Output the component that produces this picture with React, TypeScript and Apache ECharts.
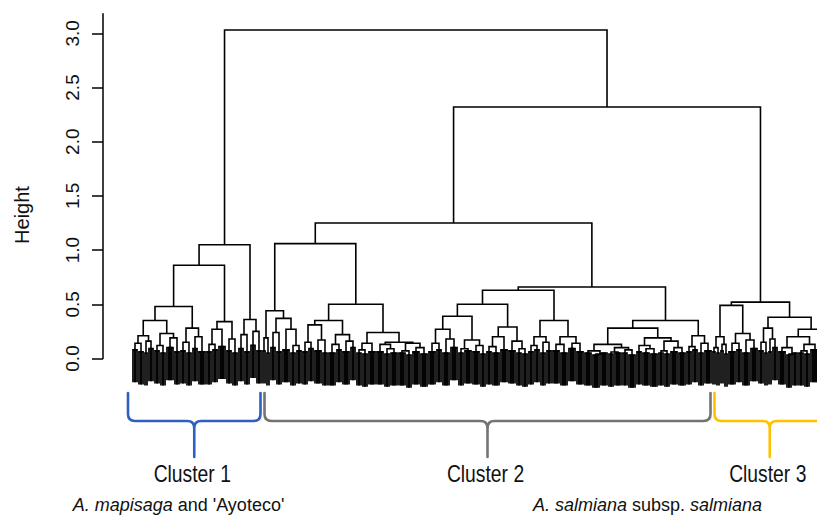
import React, { useEffect, useRef } from 'react';
import * as echarts from 'echarts';

// A tree node is [mergeHeight, left, right]; a terminal bundle is [mergeHeight, leafCount].
type Tree = [number, number] | [number, Tree, Tree];

// ---------------- data ----------------
const HANG = 0.3; // leaf hang below its parent (R's hang = 0.1 of the height range)
const yTickValues = [0, 0.5, 1, 1.5, 2, 2.5, 3];

const rootHeight = 3.03;
const cluster23Height = 2.32;
const cluster2Height = 1.25;

// Cluster 1 — A. mapisaga and 'Ayoteco'
const cluster1: Tree = [1.05,
  [0.86,
    [0.48,
      [0.35,
        [0.21, [0.14, [0.08, 3], [0.06, 3]], [0.16, [0.05, 2], [0.09, 3]]],
        [0.23, [0.12, [0.07, 3], [0.05, 3]], [0.19, [0.1, 4], [0.06, 3]]]],
      [0.28, [0.15, [0.07, 3], [0.05, 3]], [0.2, [0.09, 3], [0.06, 4]]]],
    [0.34, [0.27, [0.13, [0.06, 3], [0.08, 3]], [0.11, 4]], [0.18, [0.07, 3], [0.05, 3]]]],
  [0.36, [0.22, [0.09, 3], [0.06, 3]], [0.25, [0.12, 3], [0.07, 3]]]];

// Cluster 2, left branch
const cluster2Left: Tree = [1.06,
  [0.44,
    [0.19, [0.07, 2], [0.05, 2]],
    [0.37, [0.24, [0.1, 3], [0.06, 3]], [0.27, [0.08, 4], [0.12, [0.05, 3], [0.07, 3]]]]],
  [0.5,
    [0.35,
      [0.31, [0.15, [0.06, 3], [0.09, 3]], [0.17, [0.07, 4], [0.05, 3]]],
      [0.22, [0.13, [0.05, 4], [0.08, 3]], [0.16, [0.06, 4], [0.1, 3]]]],
    [0.24,
      [0.14, [0.08, [0.05, 3], [0.04, 3]], [0.06, 4]],
      [0.15,
        [0.13, [0.06, 4], [0.09, [0.04, 3], [0.05, 4]]],
        [0.14, [0.07, [0.05, 4], [0.03, 3]], [0.1, [0.06, 4], [0.04, 4]]]]]]];

// Cluster 2, right branch
const cluster2Right: Tree = [0.66,
  [0.63,
    [0.5,
      [0.39,
        [0.27, [0.14, [0.06, 4], [0.08, 3]], [0.18, [0.05, 4], [0.1, 4]]],
        [0.17, [0.09, [0.05, 3], [0.07, 4]], [0.12, [0.06, 4], [0.04, 3]]]],
      [0.29, [0.2, [0.11, [0.06, 3], [0.05, 4]], [0.08, 4]], [0.16, [0.07, 4], [0.09, [0.05, 3], [0.04, 3]]]]],
    [0.35,
      [0.2, [0.12, [0.06, 3], [0.08, 3]], [0.15, [0.05, 3], [0.07, 3]]],
      [0.2, [0.13, [0.07, 4], [0.05, 4]], [0.14, [0.09, 4], [0.06, 4]]]]],
  [0.35,
    [0.28,
      [0.13, [0.07, [0.05, 4], [0.04, [0.03, 4], [0.05, 4]]], [0.1, [0.06, [0.04, 3], [0.05, 4]], [0.08, [0.05, 3], [0.03, 4]]]],
      [0.19, [0.12, [0.06, 3], [0.09, [0.05, 4], [0.04, 4]]], [0.16, [0.07, [0.05, 3], [0.04, 3]], [0.1, [0.06, 4], [0.05, 4]]]]],
    [0.21, [0.11, [0.06, 3], [0.08, 3]], [0.14, [0.05, 3], [0.07, 4]]]]];

// Cluster 3
const cluster3: Tree = [0.52,
  [0.49,
    [0.2, [0.1, [0.06, 2], [0.05, 2]], [0.13, [0.07, 2], [0.04, 2]]],
    [0.23, [0.14, [0.06, 4], [0.08, 3]], [0.17, [0.05, 4], [0.09, 4]]]],
  [0.38,
    [0.28, [0.15, [0.07, 3], [0.05, 2]], [0.18, [0.06, 2], [0.1, 3]]],
    [0.27,
      [0.2, [0.1, [0.06, 4], [0.04, [0.03, 3], [0.05, 3]]], [0.13, [0.07, [0.05, 3], [0.04, 3]], [0.08, 5]]],
      [0.11, [0.06, 2], [0.05, 2]]]]];

const cluster2: Tree = [cluster2Height, cluster2Left, cluster2Right];
const fullTree: Tree = [rootHeight, cluster1, [cluster23Height, cluster2, cluster3]];

const clusterTrees = [cluster1, cluster2, cluster3];
const clusterNames = ['Cluster 1', 'Cluster 2', 'Cluster 3'];
const clusterColors = ['#2f5fbf', '#747474', '#ffc000'];
const captionTexts = ["{i|A. mapisaga} and 'Ayoteco'", '{i|A. salmiana} subsp. {i|salmiana}'];

// ---------------- layout ----------------
const W = 817;
const H = 516;
const AXIS_LEFT = 103;
const ZERO_PX = 358.5;
const PX_PER_UNIT = 108.4;
const Y_MAX = 3.18;
const Y_MIN = -0.34;
const FIRST_LEAF_PX = 133;
const LEAF_PX = 2;

function layoutTree(root: Tree) {
  const segs: number[][] = [];
  const ranges = new Map<Tree, [number, number]>();
  let next = 0;
  const walk = (n: Tree): { x: number; h: number } => {
    const start = next;
    let res: { x: number; h: number };
    if (typeof n[1] === 'number') {
      const [h, k] = n as [number, number];
      const a = next;
      next += k;
      for (let i = 0; i < k - 1; i++) {
        segs.push([a + i, h - HANG, a + i, h, a + i + 1, h, a + i + 1, h - HANG, 1]);
      }
      res = { x: a + (k - 1) / 2, h };
    } else {
      const [h, L, R] = n as [number, Tree, Tree];
      const l = walk(L);
      const r = walk(R);
      segs.push([l.x, l.h, l.x, h, r.x, h, r.x, r.h, 0]);
      res = { x: (l.x + r.x) / 2, h };
    }
    ranges.set(n, [start, next - 1]);
    return res;
  };
  walk(root);
  return { segs, ranges, count: next };
}

export default function App() {
  const ref = useRef<HTMLDivElement>(null);

  useEffect(() => {
    if (!ref.current) return;
    const chart = echarts.init(ref.current, undefined, { renderer: 'svg', width: W, height: H });
    const { segs, ranges } = layoutTree(fullTree);

    const xMin = -(FIRST_LEAF_PX - AXIS_LEFT) / LEAF_PX;
    const xMax = xMin + (W - AXIS_LEFT) / LEAF_PX;
    const gridTop = ZERO_PX - Y_MAX * PX_PER_UNIT;
    const font = "'Liberation Sans', Arial, Helvetica, sans-serif";

    chart.setOption({
      animation: false,
      backgroundColor: '#ffffff',
      grid: [
        { left: AXIS_LEFT, top: gridTop, width: W - AXIS_LEFT, height: Y_MAX * PX_PER_UNIT },
        { left: AXIS_LEFT, top: gridTop, width: W - AXIS_LEFT, height: (Y_MAX - Y_MIN) * PX_PER_UNIT },
      ],
      xAxis: [
        { gridIndex: 0, type: 'value', show: false, min: 0, max: 1 },
        { gridIndex: 1, type: 'value', show: false, min: xMin, max: xMax },
      ],
      yAxis: [
        {
          gridIndex: 0,
          type: 'value',
          min: 0,
          max: Y_MAX,
          axisLine: { show: true, lineStyle: { color: '#000', width: 1.5 } },
          axisTick: { show: true, length: 11, customValues: yTickValues, lineStyle: { color: '#000', width: 1.5 } },
          axisLabel: {
            show: true,
            customValues: yTickValues,
            rotate: 90,
            margin: 21,
            fontSize: 19,
            color: '#111',
            fontFamily: font,
            formatter: (v: number) => v.toFixed(1),
          },
          splitLine: { show: false },
        },
        { gridIndex: 1, type: 'value', show: false, min: Y_MIN, max: Y_MAX },
      ],
      series: [
        {
          type: 'custom',
          xAxisIndex: 1,
          yAxisIndex: 1,
          clip: true,
          silent: true,
          data: segs,
          encode: { x: [0, 2, 4, 6], y: [1, 3, 5, 7] },
          renderItem: (_params: any, api: any) => {
            const points = [0, 1, 2, 3].map((k) => api.coord([api.value(2 * k), api.value(2 * k + 1)]));
            const isLeaf = api.value(8) === 1;
            return {
              type: 'polyline',
              shape: { points },
              style: { fill: 'none', stroke: '#000', lineWidth: isLeaf ? 1.75 : 1.6 },
            };
          },
        },
      ],
    });

    // brackets and labels, placed from the clusters' leaf ranges
    const toPx = (i: number) => (chart.convertToPixel({ gridIndex: 1 } as any, [i, 0]) as number[])[0];
    const rs = clusterTrees.map((t) => ranges.get(t) as [number, number]);
    const y0 = 393;
    const y1 = 421;
    const y2 = 457;
    const r = 7;
    const graphics: any[] = [];
    rs.forEach(([s, e], k) => {
      const left = k === 0 ? toPx(s) - 5 : (toPx(s) + toPx(rs[k - 1][1])) / 2 + 2.5;
      const right = k === rs.length - 1 ? toPx(e) - 2 : (toPx(e) + toPx(rs[k + 1][0])) / 2 - 1.5;
      const xc = (left + right) / 2;
      const d =
        `M ${left} ${y0} L ${left} ${y1 - r} Q ${left} ${y1} ${left + r} ${y1} L ${xc - r} ${y1} ` +
        `Q ${xc} ${y1} ${xc} ${y1 + r} L ${xc} ${y2} ` +
        `M ${xc} ${y1 + r} Q ${xc} ${y1} ${xc + r} ${y1} L ${right - r} ${y1} Q ${right} ${y1} ${right} ${y1 - r} L ${right} ${y0}`;
      const name = `bracketShape${k}`;
      echarts.graphic.registerShape(name, (echarts.graphic as any).extendPath(d, {}));
      graphics.push({
        type: name,
        x: 0,
        y: 0,
        silent: true,
        style: { fill: 'none', stroke: clusterColors[k], lineWidth: 2.6, lineCap: 'round', lineJoin: 'round' },
      });
      graphics.push({
        type: 'text',
        x: xc - 2,
        y: 474,
        scaleX: 0.84,
        silent: true,
        style: {
          text: clusterNames[k],
          fontSize: 23,
          fontFamily: font,
          fill: '#111',
          align: 'center',
          verticalAlign: 'middle',
          textAlign: 'center',
          textVerticalAlign: 'middle',
        },
      });
    });

    const rich = { i: { fontStyle: 'italic', fontSize: 18, fontFamily: font, fill: '#111' } };
    const captionX = [178.5, 647.5];
    captionTexts.forEach((t, k) => {
      graphics.push({
        type: 'text',
        x: captionX[k],
        y: 505,
        silent: true,
        style: {
          text: t,
          rich,
          fontSize: 18,
          fontFamily: font,
          fill: '#111',
          align: 'center',
          verticalAlign: 'middle',
          textAlign: 'center',
          textVerticalAlign: 'middle',
        },
      });
    });

    graphics.push({
      type: 'text',
      x: 22,
      y: 215,
      rotation: Math.PI / 2,
      silent: true,
      style: {
        text: 'Height',
        fontSize: 20,
        fontFamily: font,
        fill: '#111',
        align: 'center',
        verticalAlign: 'middle',
        textAlign: 'center',
        textVerticalAlign: 'middle',
      },
    });

    chart.setOption({ graphic: graphics });

    return () => {
      chart.dispose();
    };
  }, []);

  return (
    <div
      ref={ref}
      style={{ position: 'fixed', left: 0, top: 0, width: W, height: H, background: '#fff' }}
    />
  );
}
